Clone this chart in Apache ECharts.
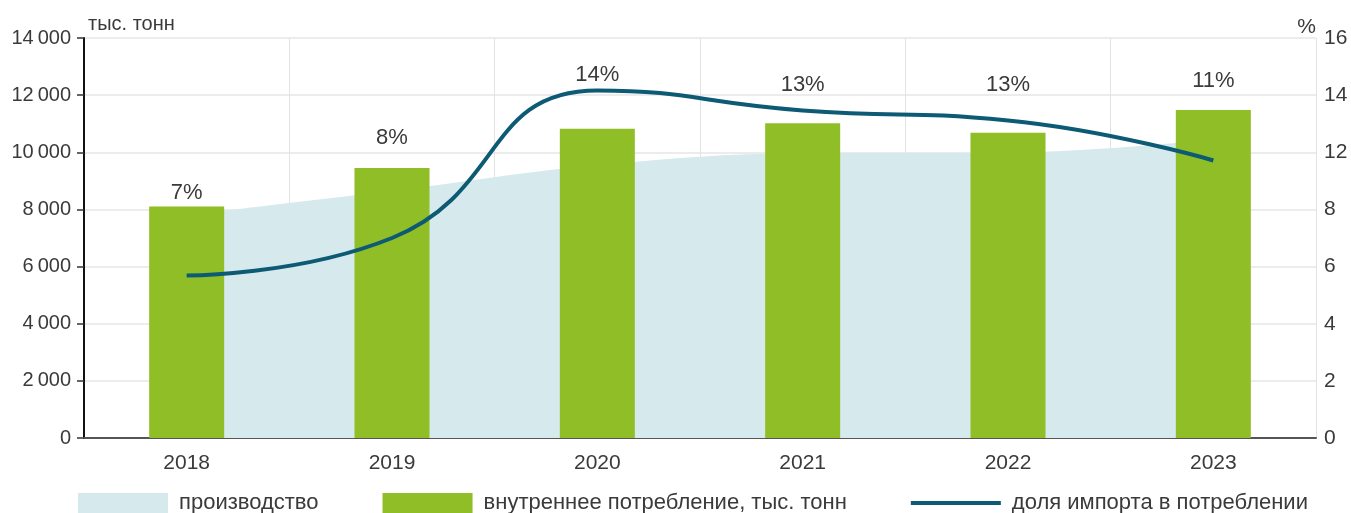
<!DOCTYPE html>
<html>
<head>
<meta charset="utf-8">
<script src="https://cdn.jsdelivr.net/npm/echarts@6/dist/echarts.min.js"></script>
<style>
  html, body { margin: 0; padding: 0; background: #ffffff; }
  #chart { width: 1351px; height: 513px; }
</style>
</head>
<body>
<div id="chart"></div>
<script>
// ---- data ----
const years = ['2018', '2019', '2020', '2021', '2022', '2023'];
const production = [7800, 8650, 9550, 9970, 9990, 10450];          // тыс. тонн (area)
const consumption = [8100, 9450, 10820, 11020, 10680, 11480];      // тыс. тонн (bars)
const importShare = [6.5, 8.0, 13.9, 13.1, 12.7, 11.1];            // % (line, right axis)
const shareLabels = ['7%', '8%', '14%', '13%', '13%', '11%'];      // printed above bars
const leftTickLabels = ['0', '2\u2009000', '4\u2009000', '6\u2009000', '8\u2009000', '10\u2009000', '12\u2009000', '14\u2009000'];
const rightTickLabels = ['0', '2', '4', '6', '8', '12', '14', '16'];
const seriesNames = ['производство', 'внутреннее потребление, тыс. тонн', 'доля импорта в потреблении'];

// ---- layout / style (not data) ----
const labelDistance = [3, 19, 43, 27, 37, 18];
const FONT = '"Liberation Sans", Arial, sans-serif';
const TXT = '#3a3a3a';
const RIGHT_MAX = 16;
const RIGHT_STEP = RIGHT_MAX / 7;

const chart = echarts.init(document.getElementById('chart'), null, { renderer: 'canvas' });

chart.setOption({
  animation: false,
  backgroundColor: '#ffffff',
  textStyle: { fontFamily: FONT, color: TXT },
  grid: { left: 84, right: 35, top: 38, bottom: 75, containLabel: false },
  legend: {
    left: 73, top: 487,
    itemWidth: 90, itemHeight: 20, itemGap: 64,
    textStyle: { fontFamily: FONT, fontSize: 22, color: TXT, padding: [0, 0, 0, 6] },
    data: [
      { name: seriesNames[0], icon: 'rect' },
      { name: seriesNames[1], icon: 'rect' },
      { name: seriesNames[2], icon: 'path://M0,0 H90 V4 H0 Z' }
    ]
  },
  xAxis: {
    type: 'category',
    data: years,
    boundaryGap: true,
    axisLine: { show: true, lineStyle: { color: '#555555', width: 2 } },
    axisTick: { show: false },
    axisLabel: { fontFamily: FONT, fontSize: 21, color: TXT, margin: 15 },
    splitLine: { show: true, lineStyle: { color: '#e3e3e3', width: 1 } }
  },
  yAxis: [
    {
      type: 'value',
      min: 0, max: 14000, interval: 2000,
      name: 'тыс. тонн',
      nameLocation: 'end',
      nameGap: 14,
      nameTextStyle: { fontFamily: FONT, fontSize: 20, color: TXT, align: 'left', verticalAlign: 'middle', padding: [0, 0, 0, 4] },
      axisLine: { show: true, onZero: false, lineStyle: { color: '#111111', width: 2 } },
      axisTick: { show: true, inside: false, length: 7, lineStyle: { color: '#333333', width: 1.5 } },
      axisLabel: {
        fontFamily: FONT, fontSize: 20, color: TXT, margin: 13,
        formatter: v => leftTickLabels[Math.round(v / 2000)]
      },
      splitLine: { show: true, lineStyle: { color: '#e6e6e6', width: 1.5 } }
    },
    {
      type: 'value',
      min: 0, max: RIGHT_MAX, interval: RIGHT_STEP,
      name: '%',
      nameLocation: 'end',
      nameGap: 11,
      nameTextStyle: { fontFamily: FONT, fontSize: 21, color: TXT, align: 'right', verticalAlign: 'middle', padding: [0, 0, 0, 0] },
      axisLine: { show: false },
      axisTick: { show: false },
      axisLabel: {
        fontFamily: FONT, fontSize: 21, color: TXT, margin: 8,
        formatter: v => rightTickLabels[Math.round(v / RIGHT_STEP)]
      },
      splitLine: { show: false }
    }
  ],
  series: [
    {
      name: seriesNames[0],
      type: 'line',
      yAxisIndex: 0,
      smooth: 0.4,
      symbol: 'none',
      data: production,
      itemStyle: { color: '#d6e9ed' },
      lineStyle: { width: 0, color: '#d6e9ed' },
      areaStyle: { color: '#d6e9ed', opacity: 1 },
      z: 1
    },
    {
      name: seriesNames[1],
      type: 'bar',
      yAxisIndex: 0,
      barWidth: 75,
      itemStyle: { color: '#90be26' },
      data: consumption.map((v, i) => ({
        value: v,
        label: { distance: labelDistance[i] }
      })),
      label: {
        show: true,
        position: 'top',
        fontFamily: FONT, fontSize: 22, color: TXT,
        formatter: p => shareLabels[p.dataIndex]
      },
      z: 2
    },
    {
      name: seriesNames[2],
      type: 'line',
      yAxisIndex: 1,
      smooth: 0.5,
      symbol: 'none',
      data: importShare,
      itemStyle: { color: '#0c5a74' },
      lineStyle: { width: 4, color: '#0c5a74' },
      z: 3
    }
  ]
});
</script>
</body>
</html>
